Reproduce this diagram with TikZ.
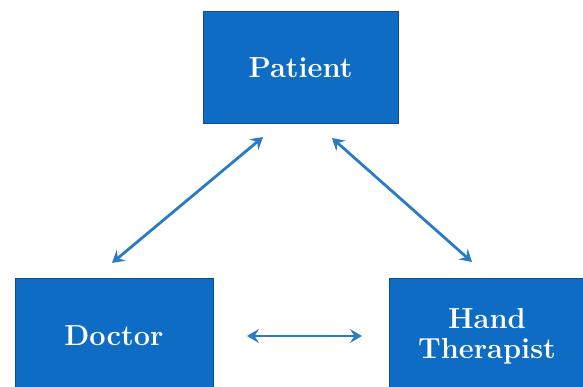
\documentclass[tikz,border=0pt]{standalone}
\usetikzlibrary{arrows.meta}
\definecolor{boxfill}{HTML}{0F6CC4}
\definecolor{boxedge}{HTML}{0B4F90}
\definecolor{arrowc}{HTML}{2A7BC6}
\tikzset{
  actor/.style={draw=boxedge, line width=1pt, fill=boxfill, text=white,
    font=\fontsize{29}{30}\selectfont\bfseries, align=center, inner sep=0pt},
  link/.style={draw=arrowc, line width=2.8pt,
    {Stealth[length=12pt,width=14pt,inset=4.5pt]}-{Stealth[length=12pt,width=14pt,inset=4.5pt]}}
}
\begin{document}
\begin{tikzpicture}[x=1pt,y=-1pt]
\useasboundingbox (0,0) rectangle (583,387);
\clip (0,0) rectangle (583,387);
\node[actor, minimum width=195pt, minimum height=112pt] (patient) at (300.5,68) {Patient};
\node[actor, minimum width=198pt, minimum height=116pt] (doctor) at (114,336) {Doctor};
\node[actor, minimum width=196pt, minimum height=116pt] (hand) at (487,336) {Hand\\Therapist};
\coordinate (a1) at (112,263);
\coordinate (a2) at (263,137);
\coordinate (b1) at (332,138);
\coordinate (b2) at (472,262);
\coordinate (c1) at (247,336);
\coordinate (c2) at (362,336);
\draw[link] (a1) -- (a2);
\draw[link] (b1) -- (b2);
\draw[link] (c1) -- (c2);
\end{tikzpicture}
\end{document}
